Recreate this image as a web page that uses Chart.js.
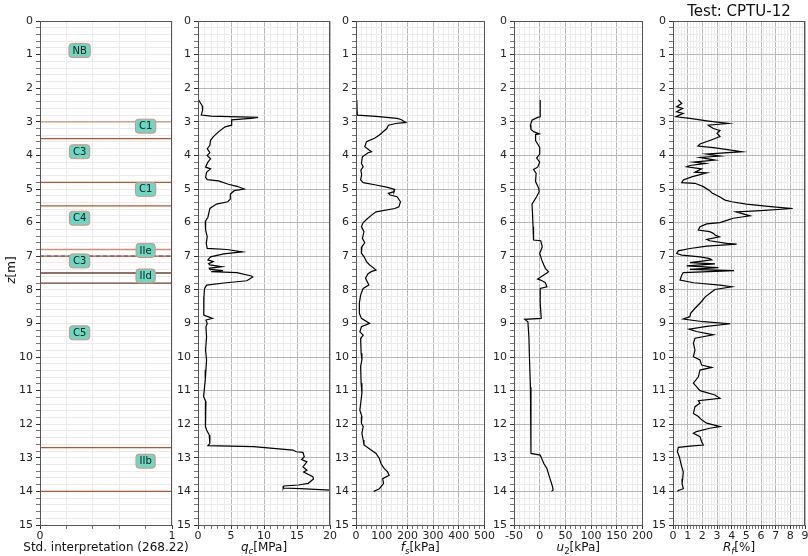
<!DOCTYPE html>
<html lang="en">
<head>
<meta charset="UTF-8">
<title>CPTU-12</title>
<script src="https://cdn.jsdelivr.net/npm/chart.js"></script>
<style>
  body { margin: 0; background: #fff; }
  #wrap { position: relative; width: 808px; height: 556px; overflow: hidden; }
  #wrap canvas { position: absolute; top: 0; }
  #title { position: absolute; left: 639px; width: 200px; top: 2px; text-align: center;
           font: 15px 'DejaVu Sans', sans-serif; color: #111; }
</style>
</head>
<body>
<div id="wrap">
  <canvas id="c1" width="210" height="556"></canvas>
  <canvas id="c2" width="180" height="556"></canvas>
  <canvas id="c3" width="180" height="556"></canvas>
  <canvas id="c4" width="180" height="556"></canvas>
  <canvas id="c5" width="180" height="556"></canvas>
  <div id="title">Test: CPTU-12</div>
</div>
<script>
// ---- data (depth in m) ----
const qcDepth = [2.35,2.45,2.53,2.65,2.80,2.83,2.87,2.90,2.94,3.10,3.15,3.30,3.45,3.55,3.70,3.80,3.92,4.00,4.10,4.20,
  4.35,4.40,4.50,4.65,4.72,4.76,4.86,4.92,5.00,5.05,5.15,5.30,5.38,5.45,5.58,5.84,5.97,6.12,6.22,6.42,
  6.62,6.77,6.80,6.87,6.93,7.02,7.11,7.16,7.22,7.26,7.31,7.36,7.39,7.43,7.46,7.49,7.59,7.62,7.73,7.79,
  7.86,7.96,8.21,8.50,8.75,8.85,8.90,9.00,9.10,9.40,9.80,10.09,10.39,10.68,11.18,11.33,11.58,11.87,12.07,12.17,
  12.32,12.57,12.64,12.67,12.77,12.82,12.84,12.97,13.05,13.12,13.27,13.37,13.42,13.56,13.63,13.76,13.81,13.84,13.90,13.92,
  13.96,14.00];
const qcValue = [0.1,0.4,0.65,0.7,0.5,2.0,9.1,8.0,5.1,5.1,4.1,3.1,2.3,1.9,1.8,1.4,1.8,1.4,1.9,1.5,
  1.15,1.9,1.3,1.15,1.4,3.1,4.6,5.9,7.0,5.5,4.9,4.9,4.5,2.8,1.8,1.5,1.1,1.2,1.1,1.4,
  1.25,1.4,4.4,6.7,3.9,1.9,1.5,2.3,1.6,1.8,3.6,1.7,1.8,3.8,2.0,5.9,8.1,8.3,7.4,4.3,
  1.3,1.0,0.9,0.85,0.9,2.2,1.2,1.4,1.2,1.3,1.15,1.3,1.2,1.1,0.85,1.2,1.1,1.2,1.1,1.3,
  1.7,1.8,1.5,8.4,14.4,14.9,15.9,16.1,15.7,16.5,15.9,16.5,16.0,17.4,17.5,16.7,15.2,13.0,12.9,15.5,
  20.0,21.0];

const fsDepth = [2.35,2.80,2.84,2.90,2.93,3.02,3.05,3.10,3.20,3.39,3.49,3.59,3.74,3.84,3.89,3.92,4.04,4.24,4.34,4.44,
  4.58,4.73,4.81,4.88,4.95,5.01,5.08,5.13,5.18,5.23,5.38,5.53,5.58,5.68,5.77,5.87,6.00,6.12,6.27,6.47,
  6.60,6.72,6.91,7.01,7.16,7.26,7.31,7.41,7.46,7.53,7.66,7.86,7.96,8.15,8.40,8.70,8.85,9.00,9.10,9.25,
  9.35,9.45,9.89,10.09,10.28,10.78,11.08,11.58,11.77,11.97,12.07,12.27,12.47,12.62,12.77,12.87,13.02,13.17,13.32,13.42,
  13.52,13.62,13.77,13.92,14.00];
const fsValue = [3,5,78,160,175,194,154,126,120,91,72,41,34,51,60,47,25,21,28,19,
  22,18,28,78,123,151,148,126,133,160,173,167,151,78,62,46,28,21,31,25,
  34,23,21,31,41,53,62,78,59,46,37,50,28,18,13,13,21,53,21,15,
  28,18,20,23,18,20,23,15,23,21,28,23,28,31,59,78,91,97,110,123,
  129,104,107,91,69];

const u2Depth = [2.35,2.85,2.87,2.95,3.10,3.23,3.30,3.36,3.38,3.56,3.66,3.76,3.96,4.08,4.20,4.35,4.42,4.53,4.78,4.98,
  5.08,5.23,5.45,5.73,6.12,6.52,6.54,6.72,6.92,7.11,7.26,7.36,7.46,7.50,7.56,7.68,7.71,7.79,7.91,7.96,
  8.40,8.85,8.88,8.95,9.40,9.99,10.90,11.90,12.87,12.92,13.17,13.32,13.62,13.86,13.96,14.00];
const u2Value = [1,1,-4,-15,-18,-17,-11,-1,-8,-8,-4,0,0,-6,0,-4,-12,-7,-8,-2,
  -1,-6,-15,-14,-13,-12,2,5,0,4,8,11,17,14,8,-4,2,11,14,1,
  1,3,-29,-23,-21,-20,-18,-17,-17,1,8,14,20,25,26,23];

const rfDepth = [2.35,2.45,2.55,2.60,2.70,2.75,2.85,2.90,2.97,3.05,3.10,3.20,3.26,3.34,3.44,3.54,3.66,3.72,3.77,3.82,
  3.89,3.94,3.96,4.02,4.06,4.14,4.20,4.24,4.30,4.34,4.40,4.50,4.52,4.64,4.73,4.81,4.83,4.93,5.05,5.11,
  5.24,5.33,5.38,5.45,5.53,5.58,5.65,5.68,5.80,5.84,5.87,5.92,6.00,6.04,6.12,6.22,6.27,6.32,6.37,6.42,
  6.50,6.54,6.62,6.64,6.70,6.77,6.84,6.92,6.97,7.02,7.07,7.11,7.19,7.23,7.29,7.34,7.39,7.43,7.49,7.56,
  7.71,7.79,7.86,7.91,7.99,8.11,8.21,8.40,8.55,8.70,8.80,8.87,8.95,9.01,9.09,9.17,9.24,9.34,9.44,9.59,
  9.79,9.99,10.09,10.24,10.31,10.39,10.59,10.78,10.88,11.00,11.13,11.23,11.30,11.38,11.48,11.68,11.77,11.87,11.97,12.07,
  12.12,12.22,12.27,12.37,12.52,12.62,12.65,12.69,12.82,12.97,13.27,13.42,13.62,13.77,13.92,13.97,14.00];
const rfValue = [0.36,0.6,0.25,0.66,0.25,0.7,0.2,1.16,2.3,3.77,2.4,2.75,3.2,3.0,3.2,2.6,1.84,1.7,2.75,3.6,
  4.7,3.0,2.3,3.2,1.84,2.86,1.4,2.2,1.16,0.93,1.95,1.5,2.3,1.27,0.7,0.6,1.5,2.07,2.5,2.64,
  3.2,3.55,4.0,5.0,6.84,8.16,5.7,4.3,5.25,4.57,4.1,3.77,3.2,2.3,1.84,1.73,2.5,2.75,2.86,3.16,
  2.3,2.5,3.66,4.34,2.3,1.16,0.36,0.25,0.6,1.84,2.5,2.64,1.16,2.86,0.93,3.1,1.16,4.16,0.7,0.6,
  0.48,1.4,3.2,4.0,2.86,2.5,2.2,1.84,1.5,1.2,1.15,0.7,2.07,3.9,2.3,1.1,1.6,2.75,1.5,1.39,
  1.5,1.39,1.84,1.95,2.64,1.84,1.73,1.39,1.6,1.84,2.86,3.2,1.73,1.84,1.5,1.39,1.73,1.95,2.3,3.2,
  2.5,1.6,1.39,1.84,1.95,2.07,1.16,0.36,0.3,0.43,0.6,0.7,0.66,0.62,0.7,0.36,0.3];

// standard interpretation panel
const boundaryDepth = [3.0, 3.5, 4.8, 5.5, 6.8, 7.0, 7.5, 7.8, 12.7, 14.0];
const waterDepth = 7.0;
const soilLabel = ['NB', 'C1', 'C3', 'C1', 'C4', 'IIe', 'C3', 'IId', 'C5', 'IIb'];
const soilDepth = [0.88, 3.13, 3.89, 5.01, 5.87, 6.83, 7.14, 7.59, 9.28, 13.1];
const soilPos   = [0.3, 0.8, 0.3, 0.8, 0.3, 0.8, 0.3, 0.8, 0.3, 0.8];

// ---- drawing helpers ----
const FONT = "'DejaVu Sans', sans-serif";
const boundaryColor = ['#cf8f76', '#b4562e', '#b4562e', '#b4562e', '#cf8f76', '#b4562e', '#6b4436', '#6b4436', '#b4562e', '#b4562e'];

function tickList(min, max, step) {
  const t = [];
  const n = Math.round((max - min) / step);
  for (let i = 0; i <= n; i++) t.push({ value: +(min + i * step).toFixed(6) });
  return t;
}
function isMajor(v, major) {
  const r = v / major;
  return Math.abs(r - Math.round(r)) < 1e-6;
}

function scaleCfg(axis, min, max, major, minor, light) {
  const cfg = {
    type: 'linear', min: min, max: max,
    afterBuildTicks: s => { s.ticks = tickList(min, max, minor); },
    ticks: {
      autoSkip: false, maxRotation: 0, color: '#222', padding: axis === 'x' ? 1 : 3,
      font: { family: FONT, size: 11 },
      callback: v => isMajor(v, major) ? String(v) : ''
    },
    grid: {
      color: c => (light || !isMajor(c.tick.value, major)) ? '#ebebeb' : '#b8b8b8',
      tickColor: c => isMajor(c.tick.value, major) ? '#333' : '#777',
      tickLength: 4, lineWidth: 1
    },
    border: { color: '#555' }
  };
  if (axis === 'x') {
    cfg.position = 'bottom';
    cfg.afterFit = s => { s.height = 31; };
  } else {
    cfg.reverse = true;
    cfg.position = 'left';
    cfg.afterFit = s => { s.width = 40; };
  }
  return cfg;
}

function drawRich(ctx, parts, cx, cy, size) {
  const f = p => (p.i ? 'italic ' : '') + (p.sub ? size * 0.72 : size) + 'px ' + FONT;
  let w = 0;
  parts.forEach(p => { ctx.font = f(p); w += ctx.measureText(p.t).width; });
  let x = cx - w / 2;
  ctx.textBaseline = 'middle';
  ctx.textAlign = 'left';
  parts.forEach(p => {
    ctx.font = f(p);
    ctx.fillText(p.t, x, cy + (p.sub ? size * 0.28 : 0));
    x += ctx.measureText(p.t).width;
  });
}

const framePlugin = {
  id: 'frame',
  afterDraw(chart) {
    const { ctx, chartArea: a } = chart;
    ctx.save();
    ctx.strokeStyle = '#555';
    ctx.lineWidth = 1;
    ctx.strokeRect(Math.round(a.left) + 0.5, Math.round(a.top) + 0.5,
                   Math.round(a.right - a.left) - 1, Math.round(a.bottom - a.top));
    ctx.fillStyle = '#111';
    const o = chart.options.plugins.frame;
    drawRich(ctx, o.xTitle, (a.left + a.right) / 2, 548, 12);
    if (o.yTitle) {
      ctx.translate(12, 270);
      ctx.rotate(-Math.PI / 2);
      drawRich(ctx, o.yTitle, 0, 0, 12);
    }
    ctx.restore();
  }
};

const soilPlugin = {
  id: 'soil',
  afterDatasetsDraw(chart) {
    if (!chart.options.plugins.soil.on) return;
    const { ctx, scales } = chart;
    ctx.save();
    ctx.font = '10px ' + FONT;
    ctx.textAlign = 'center';
    ctx.textBaseline = 'middle';
    soilLabel.forEach((t, i) => {
      const x = scales.x.getPixelForValue(soilPos[i]);
      const y = scales.y.getPixelForValue(soilDepth[i]);
      const w = Math.max(ctx.measureText(t).width + 7, 17);
      const h = 14;
      ctx.beginPath();
      ctx.roundRect(x - w / 2, y - h / 2, w, h, 3);
      ctx.fillStyle = '#6ad8c2';
      ctx.fill();
      ctx.strokeStyle = '#e8877d';
      ctx.lineWidth = 1;
      ctx.stroke();
      ctx.fillStyle = '#1a1a1a';
      ctx.fillText(t, x, y + 0.5);
    });
    ctx.restore();
  }
};

function profile(values, depths) {
  return {
    data: depths.map((d, i) => ({ x: values[i], y: d })),
    showLine: true, borderColor: '#000', borderWidth: 1.2, pointRadius: 0, tension: 0
  };
}

const panelLeft = [40, 198, 356, 514, 673];

function makePanel(n, datasets, xs, xTitle, yTitle, light, soil) {
  const cv = document.getElementById('c' + n);
  cv.style.left = (panelLeft[n - 1] - 40) + 'px';
  new Chart(cv, {
    type: 'scatter',
    data: { datasets: datasets },
    options: {
      responsive: false, animation: false, devicePixelRatio: 1,
      layout: { padding: { left: 0, right: cv.width - 172, top: 21, bottom: 0 } },
      scales: {
        x: scaleCfg('x', xs[0], xs[1], xs[2], xs[3], light),
        y: scaleCfg('y', 0, 15, 1, 0.2, light)
      },
      plugins: {
        legend: { display: false }, tooltip: { enabled: false },
        frame: { xTitle: xTitle, yTitle: yTitle },
        soil: { on: soil }
      }
    },
    plugins: [soilPlugin, framePlugin]
  });
}

const layerSets = boundaryDepth.map((d, i) => ({
  data: [{ x: 0, y: d }, { x: 1, y: d }],
  showLine: true, borderColor: boundaryColor[i], borderWidth: 1.3, pointRadius: 0
}));
layerSets.push({
  data: [{ x: 0, y: waterDepth }, { x: 1, y: waterDepth }],
  showLine: true, borderColor: '#3f4fd0', borderWidth: 1.3, borderDash: [4, 3], pointRadius: 0
});

makePanel(1, layerSets, [0, 1, 1, 0.2], [{ t: 'Std. interpretation (268.22)' }],
          [{ t: 'z', i: 1 }, { t: '[m]' }], true, true);
makePanel(2, [profile(qcValue, qcDepth)], [0, 20, 5, 1],
          [{ t: 'q', i: 1 }, { t: 'c', i: 1, sub: 1 }, { t: '[MPa]' }], null, false, false);
makePanel(3, [profile(fsValue, fsDepth)], [0, 500, 100, 20],
          [{ t: 'f', i: 1 }, { t: 's', i: 1, sub: 1 }, { t: '[kPa]' }], null, false, false);
makePanel(4, [profile(u2Value, u2Depth)], [-50, 200, 50, 10],
          [{ t: 'u', i: 1 }, { t: '2', sub: 1 }, { t: '[kPa]' }], null, false, false);
makePanel(5, [profile(rfValue, rfDepth)], [0, 9, 1, 0.2],
          [{ t: 'R', i: 1 }, { t: 'f', i: 1, sub: 1 }, { t: '[%]' }], null, false, false);
</script>
</body>
</html>
